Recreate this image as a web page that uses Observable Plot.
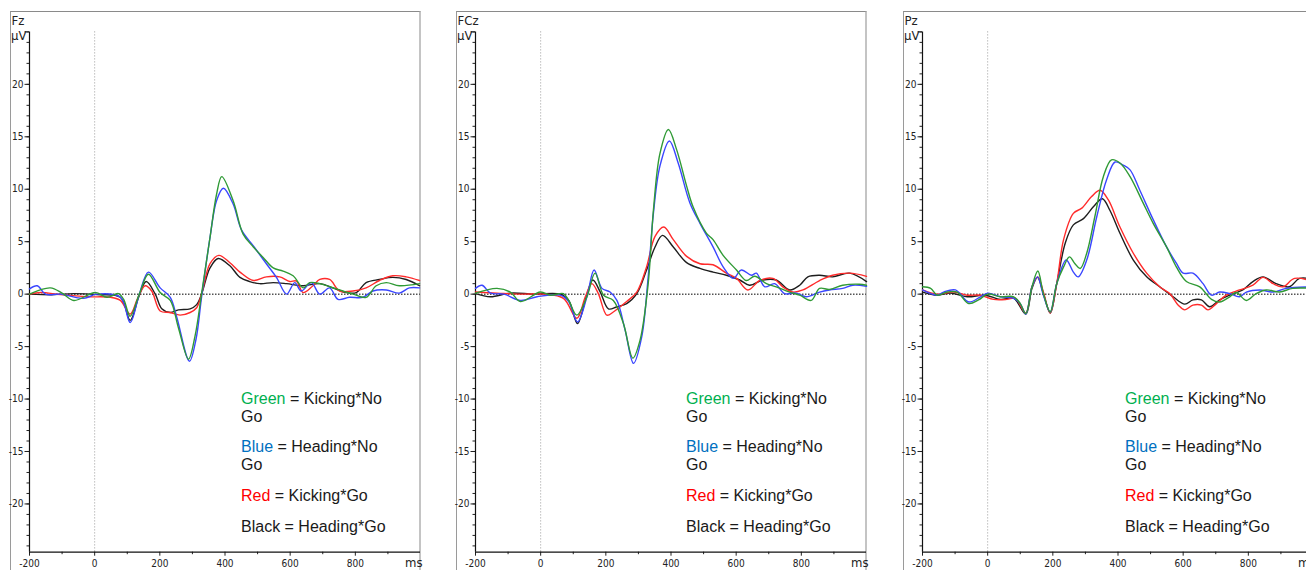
<!DOCTYPE html>
<html>
<head>
<meta charset="utf-8">
<script src="https://cdn.jsdelivr.net/npm/d3@7"></script>
<script src="https://cdn.jsdelivr.net/npm/@observablehq/plot@0.6"></script>
<style>
html, body { margin: 0; padding: 0; background: #fff; }
body { width: 1306px; height: 570px; overflow: hidden; position: relative; }
.panel { position: absolute; top: 0; width: 446px; height: 570px; }
.frame { position: absolute; left: 10px; top: 11px; width: 411px; height: 620px; box-sizing: border-box;
  border-top: 1px solid #8a8a8a; border-left: 1px solid #9a9a9a; border-right: 2px solid #c4c4c4; }
.plot { position: absolute; left: 0; top: 0; }
.lab { position: absolute; font-family: "Liberation Sans Narrow", "DejaVu Sans Condensed", Arial, sans-serif;
  font-size: 13px; line-height: 13px; color: #222; white-space: nowrap; }
.leg { position: absolute; font-family: "Liberation Sans", Arial, sans-serif; font-size: 16px; line-height: 17px;
  color: #1a1a1a; white-space: nowrap; }
</style>
</head>
<body>
<script>
// ---------- data (time in ms, amplitude in µV) ----------
const channels = ["Fz", "FCz", "Pz"];
const seriesNames = ["Kicking*No Go", "Heading*No Go", "Kicking*Go", "Heading*Go"];
const seriesColors = ["#2f9a35", "#3a46ff", "#ff2b2b", "#1e1e1e"];
const legendNames = ["Green", "Blue", "Red", "Black"];
const legendColors = ["#00b050", "#0070c0", "#ff0000", "#1a1a1a"];
const xTicks = [-200, 0, 200, 400, 600, 800];
const yTicks = [-20, -15, -10, -5, 0, 5, 10, 15, 20];

const fzGreen = [[-200,0],[-136,0.6],[-100,0.1],[-64,-0.6],[2,0.15],[38,-0.3],[73,0.05],[89,-0.5],[109,-2.1],[137,0],[165,1.9],[201,0.15],[232,-0.6],[257,-3.2],[288,-6.2],[308,-4.0],[328,0],[354,5.4],[374,9.5],[390,11.2],[425,8.9],[456,5.7],[487,4.5],[517,3.5],[548,2.5],[578,2.2],[609,1.75],[640,0.6],[660,1.1],[691,1.0],[742,0.5],[793,0],[833,-0.3],[864,0.8],[895,1.1],[935,0.8],[997,1.0]];
const fzBlue = [[-200,0.5],[-176,0.8],[-151,0],[-105,0],[-34,-0.4],[7,0],[79,-0.3],[109,-2.7],[137,0],[165,2.1],[201,0.6],[232,-0.3],[252,-2.2],[291,-6.4],[311,-4.3],[328,-0.3],[354,5.4],[374,8.9],[395,10.1],[425,8.6],[451,6.1],[487,4.6],[527,2.9],[558,1.6],[589,0],[614,1.1],[634,0.3],[665,1.1],[691,0],[721,0.6],[747,-0.5],[782,-0.3],[823,-0.3],[854,0.3],[895,0.4],[935,0.1],[966,0.6],[997,0.6]];
const fzRed = [[-200,0],[-166,0.15],[-105,-0.05],[-23,-0.25],[48,-0.3],[79,-0.6],[109,-1.9],[132,-0.4],[155,0.8],[175,0.3],[201,-1.6],[232,-1.75],[262,-2.0],[293,-1.75],[313,-1.3],[328,0],[354,2.9],[381,3.7],[415,3.0],[446,2.1],[487,1.3],[527,1.65],[568,1.65],[599,1.2],[619,1.25],[640,0.15],[670,0.8],[691,1.4],[721,1.4],[752,0.3],[793,0.3],[833,0.6],[874,1.3],[915,1.75],[956,1.65],[997,1.3]];
const fzBlack = [[-200,0],[-125,-0.05],[-64,0.05],[7,-0.05],[79,-0.3],[109,-2.5],[135,-0.3],[158,1.2],[186,0],[206,-1.4],[232,-1.75],[257,-1.5],[293,-1.4],[313,-1.0],[328,0],[354,2.5],[379,3.4],[415,2.7],[446,1.6],[476,1.2],[507,1.0],[548,1.1],[589,1.0],[640,0.8],[691,1.0],[731,0.6],[772,0.15],[803,0.15],[833,1.1],[874,1.4],[915,1.6],[956,1.4],[997,0.8]];

const fczGreen = [[-200,0.1],[-134,0.55],[-93,0.2],[-62,-0.7],[-1,0.2],[30,-0.1],[70,0.05],[86,-0.6],[111,-2.0],[142,-0.25],[167,2.0],[193,-0.1],[223,-0.6],[254,-2.8],[283,-6.1],[305,-4.4],[330,1.0],[346,8.0],[366,13.4],[392,15.7],[417,13.8],[448,10.3],[468,8.3],[509,5.8],[529,5.2],[560,3.7],[601,2.3],[631,1.3],[657,1.7],[693,1.0],[723,0.7],[764,0.2],[795,-0.1],[830,-0.6],[856,0.55],[886,0.45],[927,0.85],[978,0.95],[1000,0.85]];
const fczBlue = [[-200,0.55],[-180,0.85],[-154,0.1],[-113,0],[-62,-0.6],[-11,-0.25],[60,-0.1],[86,-0.7],[113,-2.65],[142,-0.25],[164,2.3],[188,0.55],[213,0.2],[234,-0.6],[259,-3.4],[285,-6.6],[310,-4.1],[330,1.65],[346,7.7],[366,12.2],[395,14.6],[422,12.5],[458,8.7],[489,6.75],[529,4.5],[560,2.6],[591,1.5],[616,2.3],[647,1.8],[662,2.0],[688,0.7],[718,1.0],[749,0.05],[784,0.1],[815,-0.25],[856,0.2],[886,0.4],[927,0.55],[958,0.85],[1000,0.75]];
const fczRed = [[-200,0.2],[-134,0.1],[-62,0],[9,0],[70,-0.4],[111,-2.3],[137,-0.25],[157,1.0],[177,0.05],[203,-2.0],[223,-1.7],[244,-1.2],[264,-0.7],[295,0.2],[325,2.6],[351,5.5],[378,6.4],[407,5.2],[448,3.6],[489,2.9],[529,2.8],[570,2.0],[601,1.5],[636,0.4],[672,1.3],[713,1.5],[743,0.7],[774,0.2],[805,0.4],[856,1.3],[896,1.8],[948,2.0],[1000,1.7]];
const fczBlack = [[-200,0.05],[-154,-0.25],[-93,0.1],[-21,0],[60,0],[86,-0.6],[113,-2.8],[140,-0.25],[160,1.35],[183,0.2],[208,-1.4],[234,-1.2],[264,-0.9],[295,0.05],[325,2.3],[351,4.5],[374,5.6],[407,4.5],[448,3.0],[489,2.45],[529,2.1],[570,1.8],[611,1.35],[641,0.85],[682,1.35],[723,1.35],[764,0.4],[795,0.85],[820,1.65],[856,1.8],[896,1.65],[948,2.0],[1000,1.2]];

const pzGreen = [[-200,0.7],[-175,0.55],[-155,-0.1],[-124,0.2],[-94,0.2],[-58,-0.9],[-28,-0.55],[0,0],[39,-0.25],[80,-0.25],[100,-0.9],[117,-1.85],[136,0.7],[154,2.2],[171,0.05],[192,-1.7],[212,1.0],[233,2.6],[251,3.55],[268,2.9],[284,2.45],[304,3.9],[329,7.4],[355,11.2],[380,12.8],[406,12.5],[437,11.2],[477,8.7],[508,6.75],[549,4.5],[579,2.6],[610,1.2],[651,0.7],[687,-0.5],[712,-0.75],[743,-0.25],[763,0.15],[794,-0.6],[824,0.05],[855,0.4],[896,0.2],[936,0.55],[1000,0.55]];
const pzBlue = [[-200,0.4],[-155,-0.1],[-135,0.2],[-99,0.4],[-58,-0.75],[-22,-0.25],[0,0.1],[39,-0.25],[80,-0.4],[100,-0.9],[117,-1.9],[136,0.7],[153,1.65],[171,-0.1],[192,-1.7],[212,1.0],[241,3.25],[263,2.1],[278,1.65],[304,3.25],[335,7.4],[365,10.9],[391,12.6],[416,12.3],[437,11.85],[467,9.9],[508,7.1],[549,4.5],[579,2.95],[600,2.0],[630,2.0],[661,1.0],[687,-0.1],[712,0.2],[743,0.05],[773,-0.25],[794,0.2],[835,0.4],[876,0.2],[916,0.55],[1000,0.7]];
const pzRed = [[-200,0.4],[-155,0],[-104,0.2],[-63,-0.1],[-22,-0.1],[18,-0.5],[59,-0.5],[85,-0.4],[117,-1.8],[136,0.7],[154,1.65],[171,0.2],[192,-1.8],[212,1.0],[233,5.2],[263,7.7],[289,8.2],[319,9.3],[345,9.9],[370,9.0],[406,6.4],[447,3.9],[488,2.0],[528,0.7],[559,0.05],[585,-1.05],[605,-1.5],[630,-1.05],[656,-1.05],[676,-1.5],[702,-0.9],[732,-0.1],[773,0.4],[814,0.85],[845,1.6],[876,1.0],[906,0.7],[942,1.5],[1000,1.2]];
const pzBlack = [[-200,0.2],[-155,-0.1],[-114,0.1],[-63,-0.25],[-7,-0.1],[39,-0.5],[80,-0.4],[117,-1.9],[136,0.55],[153,1.6],[171,0.05],[192,-1.8],[212,1.0],[238,4.85],[263,6.6],[294,7.2],[325,8.35],[352,9.1],[375,8.0],[406,5.8],[447,3.25],[488,1.65],[528,0.7],[569,-0.25],[605,-0.95],[630,-0.55],[656,-0.55],[681,-1.2],[712,-0.55],[743,-0.1],[783,0.4],[814,1.2],[845,1.65],[885,1.0],[926,0.7],[957,1.5],[1000,1.4]];

const panelSeries = [
  [fzGreen, fzBlue, fzRed, fzBlack],
  [fczGreen, fczBlue, fczRed, fczBlack],
  [pzGreen, pzBlue, pzRed, pzBlack]
];
// ---------- layout ----------
const panelLeft = [0, 446, 893];
const legendLeft = [241, 240, 232];
const legendBaselines = [404, 421.5, 452, 469.5, 500.5, 531.5];
const yMin = -24.6, yMax = 25;

channels.forEach((ch, p) => {
  const panel = document.createElement("div");
  panel.className = "panel";
  panel.style.left = panelLeft[p] + "px";
  document.body.appendChild(panel);

  const frame = document.createElement("div");
  frame.className = "frame";
  panel.appendChild(frame);

  const rows = [];
  panelSeries[p].forEach((arr, s) => arr.forEach(([t, v]) => rows.push({t, v, series: seriesNames[s]})));
  const drawOrder = [3, 2, 1, 0];

  const chart = Plot.plot({
    width: 446, height: 570,
    marginLeft: 29, marginRight: 26, marginTop: 31.4, marginBottom: 18.3,
    x: {domain: [-200, 1000]},
    y: {domain: [yMin, yMax]},
    style: {background: "transparent", fontFamily: '"Liberation Sans Narrow","DejaVu Sans Condensed",Arial,sans-serif', fontSize: "10px", color: "#222"},
    marks: [
      Plot.ruleX([0], {stroke: "#9a9a9a", strokeDasharray: "1,2", strokeWidth: 1}),
      Plot.ruleY([0], {stroke: "#555", strokeDasharray: "1.5,1.5", strokeWidth: 1.5}),
      Plot.axisY({ticks: d3.range(-24, 26, 1), tickSize: 2.5, tickFormat: () => "", label: null, stroke: "#222"}),
      Plot.axisY({ticks: [...yTicks, 25], tickSize: 4.5, tickPadding: 1.5, tickFormat: d => d === 25 ? "" : String(d), label: null, stroke: "#222"}),
      Plot.axisX({ticks: d3.range(-100, 1000, 200), tickSize: 2.5, tickFormat: () => "", label: null, stroke: "#222"}),
      Plot.axisX({ticks: xTicks, tickSize: 4, tickPadding: 4, tickFormat: d => String(d), label: null, stroke: "#222"}),
      Plot.ruleX([-200], {stroke: "#111", strokeWidth: 1.2}),
      Plot.ruleY([yMin], {stroke: "#111", strokeWidth: 1.2}),
      ...drawOrder.map(s => Plot.line(rows.filter(r => r.series === seriesNames[s]), {
        x: "t", y: "v", stroke: seriesColors[s], strokeWidth: 1.4, curve: "catmull-rom"
      }))
    ]
  });
  chart.classList.add("plot");
  panel.appendChild(chart);

  const addLab = (text, left, baseline) => {
    const d = document.createElement("div");
    d.className = "lab";
    d.textContent = text;
    d.style.left = left + "px";
    d.style.top = (baseline - 11) + "px";
    panel.appendChild(d);
  };
  addLab(ch, 11.5, 25);
  addLab("µV", 11, 40);
  addLab("ms", 405, 567);

  const legendLines = [
    [legendNames[0], " = Kicking*No", 0], ["", "Go", null],
    [legendNames[1], " = Heading*No", 1], ["", "Go", null],
    [legendNames[2], " = Kicking*Go", 2],
    [legendNames[3], " = Heading*Go", 3]
  ];
  legendLines.forEach(([name, rest, ci], i) => {
    const d = document.createElement("div");
    d.className = "leg";
    d.style.left = legendLeft[p] + "px";
    d.style.top = (legendBaselines[i] - 14) + "px";
    if (name) {
      const sp = document.createElement("span");
      sp.textContent = name;
      sp.style.color = legendColors[ci];
      d.appendChild(sp);
    }
    d.appendChild(document.createTextNode(rest));
    panel.appendChild(d);
  });
});
</script>
</body>
</html>
